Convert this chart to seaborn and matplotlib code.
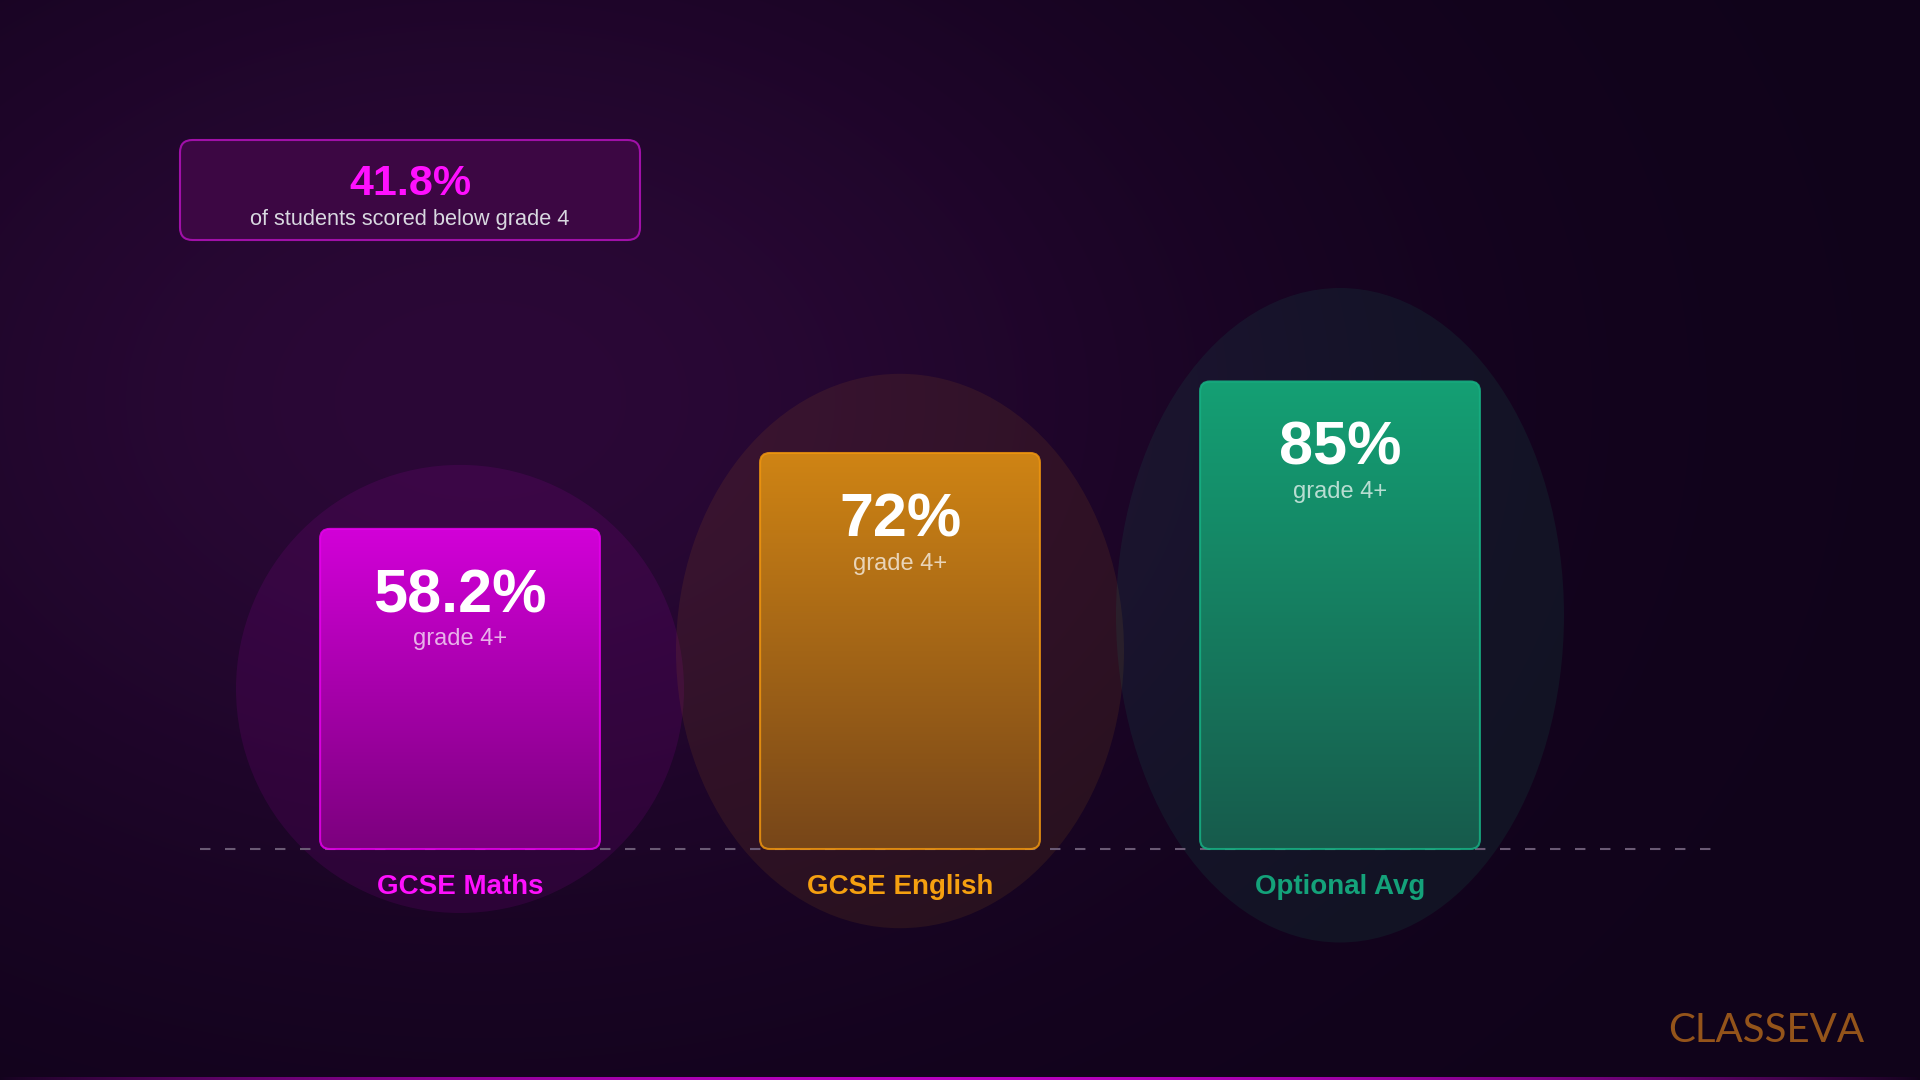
import numpy as np
import pandas as pd
import seaborn as sns
import matplotlib.pyplot as plt
from matplotlib.patches import FancyBboxPatch, Ellipse
from matplotlib.colors import LinearSegmentedColormap, to_rgb

# chart data
subjects = ["GCSE Maths", "GCSE English", "Optional Avg"]
pass_rates = [58.2, 72, 85]
value_labels = ["58.2%", "72%", "85%"]
sub_label = "grade 4+"
below_grade4 = 41.8
callout_text = "of students scored below grade 4"
brand = "CLASSEVA"

# colours
top_colors = ["#d200d8", "#cf8414", "#14a074"]
bottom_colors = ["#7c007e", "#774619", "#175b4c"]
edge_colors = ["#e600ec", "#f0960f", "#17b184"]
label_colors = ["#ff10ff", "#f5a010", "#14a27a"]

sns.set_theme(style="dark")
plt.rcParams['font.family'] = ['Liberation Sans', 'DejaVu Sans']

W, H = 1920, 1080
fig = plt.figure(figsize=(19.2, 10.8), dpi=100)

# background: dark purple with a soft glow in the upper left
yy, xx = np.mgrid[0:H, 0:W]
base = np.array(to_rgb("#10031a"))
glow = np.array(to_rgb("#2b0837"))
g = np.exp(-(((xx - 480) / 750.0) ** 2 + ((yy - 400) / 520.0) ** 2))
bg = base + (glow - base) * g[..., None]
# thin magenta line along the bottom edge
line_alpha = np.sin(np.pi * np.arange(W) / W) ** 0.8
mag = np.array(to_rgb("#b800c0"))
for r in range(H - 3, H):
    bg[r] = bg[r] * (1 - line_alpha[:, None]) + mag * line_alpha[:, None]
bg_ax = fig.add_axes([0, 0, 1, 1])
bg_ax.imshow(bg, aspect="auto", interpolation="nearest")
bg_ax.axis("off")

ax = fig.add_axes([0, 0, 1, 1])
ax.patch.set_alpha(0)

df = pd.DataFrame({"subject": subjects, "rate": pass_rates})
sns.barplot(data=df, x="subject", y="rate", hue="subject", palette=top_colors,
            width=0.636, saturation=1, legend=False, ax=ax)

# 440 px per category, 5.5 px per percent, baseline 231 px from bottom
ax.set_xlim(-460 / 440, (W - 460) / 440)
ax.set_ylim(-231 / 5.5, (H - 231) / 5.5)
ax.axis("off")

ax.plot([-0.591, 2.864], [0, 0], color="#6a5a74", lw=1.5, dashes=(5, 7), zorder=1)

bars = sorted(ax.patches, key=lambda p: p.get_x())
for i, p in enumerate(bars):
    x0, w, h = p.get_x(), p.get_width(), p.get_height()
    xc = x0 + w / 2
    p.set_visible(False)

    ax.add_patch(Ellipse((xc, h / 2), width=448 / 440, height=1.4 * h,
                         facecolor=top_colors[i], alpha=0.1, lw=0, zorder=0.5))

    box = FancyBboxPatch((x0, 0), w, h, boxstyle="round,pad=0,rounding_size=0.022",
                         mutation_aspect=80, facecolor="none",
                         edgecolor=edge_colors[i], lw=1.5, alpha=0.85, zorder=4)
    ax.add_patch(box)
    cmap = LinearSegmentedColormap.from_list("g%d" % i, [bottom_colors[i], top_colors[i]])
    grad = np.linspace(0, 1, 256).reshape(-1, 1)
    im = ax.imshow(grad, extent=(x0, x0 + w, 0, h), origin="lower", aspect="auto",
                   cmap=cmap, zorder=3)
    im.set_clip_path(box)

    ax.text(xc, h - 12.3, value_labels[i], ha="center", va="center", fontsize=44,
            fontweight="bold", color="white", zorder=5)
    ax.text(xc, h - 20.1, sub_label, ha="center", va="center", fontsize=17,
            color="white", alpha=0.7, zorder=5)
    ax.text(xc, -7.0, subjects[i], ha="center", va="center", fontsize=20,
            fontweight="bold", color=label_colors[i], zorder=5)

ax.set_xlim(-460 / 440, (W - 460) / 440)
ax.set_ylim(-231 / 5.5, (H - 231) / 5.5)

# callout box
callout = FancyBboxPatch((180 / W, 1 - 240 / H), 460 / W, 100 / H,
                         boxstyle="round,pad=0,rounding_size=0.0065",
                         mutation_aspect=W / H, transform=ax.transAxes,
                         facecolor="#3c0743", edgecolor="#a010a8", lw=1.5, zorder=5)
ax.add_patch(callout)
ax.text(410 / W, 1 - 184 / H, f"{below_grade4}%", transform=ax.transAxes,
        ha="center", va="center", fontsize=31, fontweight="bold", color="#ff10ff", zorder=6)
ax.text(410 / W, 1 - 220 / H, callout_text, transform=ax.transAxes,
        ha="center", va="center", fontsize=15.7, color="#d8d8e0", zorder=6)

# brand mark
ax.text(1766 / W, 1 - 1030 / H, brand, transform=ax.transAxes, ha="center", va="center",
        fontsize=29, family=["Lato", "DejaVu Sans"], fontweight="normal",
        color="#94541a", zorder=6)

fig.savefig("out.png", dpi=100, facecolor=fig.get_facecolor())
